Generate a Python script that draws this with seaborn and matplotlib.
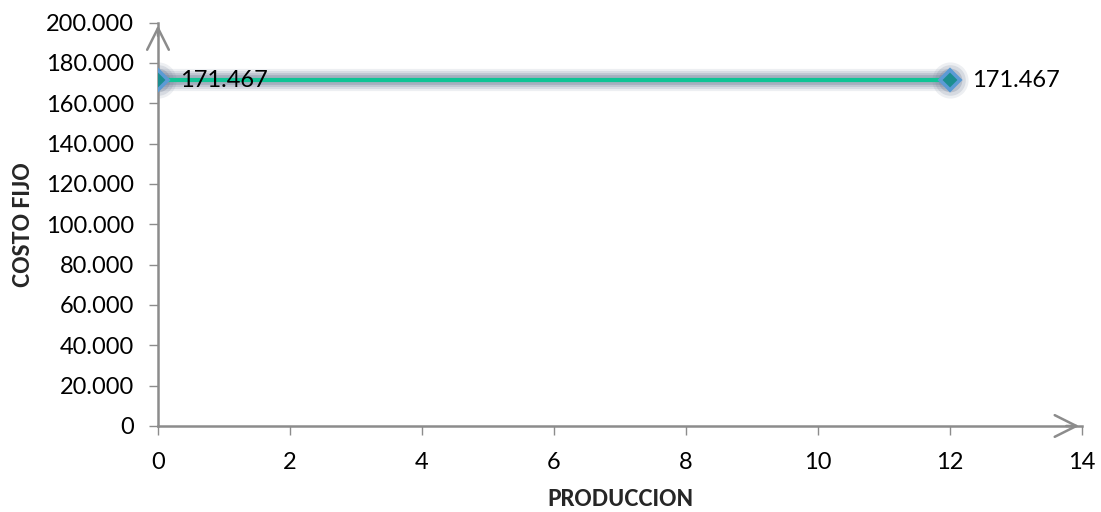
import matplotlib
matplotlib.use("Agg")
import matplotlib.pyplot as plt
import seaborn as sns
import pandas as pd
import numpy as np

produccion = [0, 12]
costo_fijo = [171467, 171467]
x_ticks = [0, 2, 4, 6, 8, 10, 12, 14]
y_ticks = [0, 20000, 40000, 60000, 80000, 100000, 120000, 140000, 160000, 180000, 200000]

sns.set_theme(style="white")
plt.rcParams['font.family'] = ['Lato', 'DejaVu Sans']

def fmt(v):
    return f"{int(v):,}".replace(",", ".")

df = pd.DataFrame({"PRODUCCION": produccion, "COSTO FIJO": costo_fijo})

fig = plt.figure(figsize=(11.01, 5.12), dpi=100)
ax = fig.add_axes([0.1435, 0.168, 0.8392, 0.788])

# glow
glow = "#6f7d96"
for lw, a in [(16, 0.12), (13, 0.16), (10, 0.22), (7, 0.32)]:
    ax.plot(df["PRODUCCION"], df["COSTO FIJO"], color=glow, lw=lw, alpha=a,
            solid_capstyle="butt", zorder=2)
for ms, a in [(26, 0.12), (22, 0.18), (17, 0.28)]:
    ax.plot(df["PRODUCCION"], df["COSTO FIJO"], ls="none", marker="o", ms=ms,
            color=glow, alpha=a, zorder=2, markeredgewidth=0)

sns.lineplot(data=df, x="PRODUCCION", y="COSTO FIJO", ax=ax, color="#10c495", lw=3,
             marker="D", markersize=10, markerfacecolor="#1b8d8f",
             markeredgecolor="#5b9bd5", markeredgewidth=2.6, zorder=4)

for xv, yv in zip(produccion, costo_fijo):
    ax.annotate(fmt(yv), (xv, yv), xytext=(16, 0), textcoords="offset points",
                ha="left", va="center", fontsize=17, color="black", zorder=5)

ax.set_xlim(0, 14)
ax.set_ylim(0, 200000)
ax.set_xticks(x_ticks)
ax.set_yticks(y_ticks)
ax.set_xticklabels([str(t) for t in x_ticks], fontsize=17)
ax.set_yticklabels([fmt(t) for t in y_ticks], fontsize=17)
ax.set_xlabel("PRODUCCION", fontsize=15.5, fontweight="black")
ax.set_ylabel("COSTO FIJO", fontsize=15.5, fontweight="black")
ax.xaxis.label.set_va("center")
ax.yaxis.label.set_va("center")
ax.xaxis.set_label_coords(0.5, -0.183)
ax.yaxis.set_label_coords(-0.146, 0.5)

for s in ["top", "right"]:
    ax.spines[s].set_visible(False)
for s in ["left", "bottom"]:
    ax.spines[s].set_color("#8c8c8c")
    ax.spines[s].set_linewidth(1.8)
ax.tick_params(axis="both", which="major", direction="out", length=6.5, width=1,
               color="#8c8c8c", labelcolor="black", left=True, bottom=True)
ax.tick_params(axis="x", pad=12)
ax.tick_params(axis="y", pad=11)

# arrow heads
ax.annotate("", xy=(1.0, 0), xytext=(0.98, 0), xycoords="axes fraction",
            arrowprops=dict(arrowstyle="->,head_length=1.3,head_width=0.65",
                            color="#8c8c8c", lw=1.8), annotation_clip=False)
ax.annotate("", xy=(0, 1.0), xytext=(0, 0.96), xycoords="axes fraction",
            arrowprops=dict(arrowstyle="->,head_length=1.3,head_width=0.65",
                            color="#8c8c8c", lw=1.8), annotation_clip=False)

fig.savefig("out.png", dpi=100)
